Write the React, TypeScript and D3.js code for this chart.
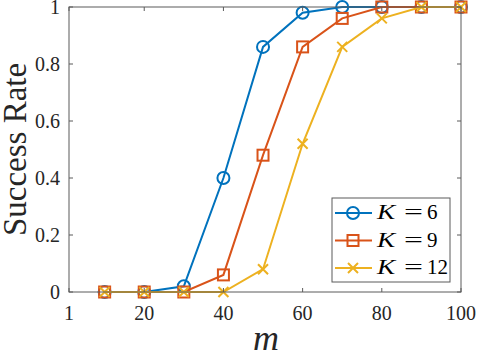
import { useEffect, useRef } from "react";
import * as d3 from "d3";

const mValues = [10, 20, 30, 40, 50, 60, 70, 80, 90, 100];
const k6 = [0, 0, 0.02, 0.4, 0.86, 0.98, 1, 1, 1, 1];
const k9 = [0, 0, 0, 0.06, 0.48, 0.86, 0.96, 1, 1, 1];
const k12 = [0, 0, 0, 0, 0.08, 0.52, 0.86, 0.96, 1, 1];
const xTicks = [1, 20, 40, 60, 80, 100];
const yTicks = [0, 0.2, 0.4, 0.6, 0.8, 1];

const series = [
  { k: "6", values: k6, color: "#0072BD", marker: "circle" },
  { k: "9", values: k9, color: "#D95319", marker: "square" },
  { k: "12", values: k12, color: "#EDB120", marker: "cross" },
];

const W = 478;
const H = 357;
const FONT = "Liberation Serif";

const drawMarker = (g, type, cx, cy, color) => {
  if (type === "circle") {
    g.append("circle").attr("cx", cx).attr("cy", cy).attr("r", 6)
      .attr("fill", "none").attr("stroke", color).attr("stroke-width", 2);
  } else if (type === "square") {
    g.append("rect").attr("x", cx - 5.5).attr("y", cy - 5.5).attr("width", 11).attr("height", 11)
      .attr("fill", "none").attr("stroke", color).attr("stroke-width", 2);
  } else {
    const s = 5;
    g.append("path").attr("d", `M${cx - s},${cy - s}L${cx + s},${cy + s}M${cx - s},${cy + s}L${cx + s},${cy - s}`)
      .attr("stroke", color).attr("stroke-width", 2).attr("fill", "none");
  }
};

export default function App() {
  const ref = useRef(null);

  useEffect(() => {
    const svg = d3.select(ref.current);
    svg.selectAll("*").remove();

    const x = d3.scaleLinear().domain([1, 100]).range([69, 461]);
    const y = d3.scaleLinear().domain([0, 1]).range([292, 7]);
    const [x0, x1] = x.range();
    const [y0, y1] = y.range();
    const axisColor = "#5a5a5a";

    svg.append("rect").attr("width", W).attr("height", H).attr("fill", "#fff");

    // data lines and markers
    series.forEach((s) => {
      const line = d3.line().x((_, i) => x(mValues[i])).y((v) => y(v));
      svg.append("path").datum(s.values).attr("d", line)
        .attr("fill", "none").attr("stroke", s.color).attr("stroke-width", 2);
      const g = svg.append("g");
      s.values.forEach((v, i) => drawMarker(g, s.marker, x(mValues[i]), y(v), s.color));
    });

    // box + ticks
    svg.append("rect").attr("x", x0).attr("y", y1).attr("width", x1 - x0).attr("height", y0 - y1)
      .attr("fill", "none").attr("stroke", axisColor).attr("stroke-width", 1);
    const tl = 4;
    xTicks.forEach((t) => {
      svg.append("line").attr("x1", x(t)).attr("x2", x(t)).attr("y1", y0).attr("y2", y0 - tl).attr("stroke", axisColor);
      svg.append("line").attr("x1", x(t)).attr("x2", x(t)).attr("y1", y1).attr("y2", y1 + tl).attr("stroke", axisColor);
      svg.append("text").attr("x", x(t)).attr("y", 320).attr("text-anchor", "middle")
        .style("font-family", FONT).attr("font-size", 20).attr("fill", "#262626").text(t);
    });
    yTicks.forEach((t) => {
      svg.append("line").attr("x1", x0).attr("x2", x0 + tl).attr("y1", y(t)).attr("y2", y(t)).attr("stroke", axisColor);
      svg.append("line").attr("x1", x1).attr("x2", x1 - tl).attr("y1", y(t)).attr("y2", y(t)).attr("stroke", axisColor);
      svg.append("text").attr("x", 60).attr("y", y(t) + 7).attr("text-anchor", "end")
        .style("font-family", FONT).attr("font-size", 20).attr("fill", "#262626").text(t);
    });

    // axis labels
    svg.append("text").attr("x", 266).attr("y", 350).attr("text-anchor", "middle")
      .style("font-family", FONT).attr("font-style", "italic").attr("font-size", 36).attr("fill", "#262626").text("m");
    svg.append("text").attr("transform", `translate(26,${(y0 + y1) / 2}) rotate(-90)`).attr("text-anchor", "middle")
      .style("font-family", FONT).attr("font-size", 33).attr("fill", "#262626").text("Success Rate");

    // legend
    const lg = svg.append("g");
    lg.append("rect").attr("x", 332).attr("y", 198).attr("width", 118).attr("height", 84)
      .attr("fill", "#fff").attr("stroke", axisColor).attr("stroke-width", 1);
    series.forEach((s, i) => {
      const ly = 213 + i * 27.5;
      lg.append("line").attr("x1", 335).attr("x2", 372).attr("y1", ly).attr("y2", ly)
        .attr("stroke", s.color).attr("stroke-width", 2);
      drawMarker(lg, s.marker, 353, ly, s.color);
      const base = ly + 6;
      lg.append("text").attr("transform", `translate(377,${base}) scale(1.3,1)`).style("font-family", FONT)
        .attr("font-style", "italic").attr("font-size", 21).attr("fill", "#000").text("K");
      lg.append("text").attr("transform", `translate(404,${base}) scale(1.6,1)`).style("font-family", FONT)
        .attr("font-size", 21).attr("fill", "#000").text("=");
      lg.append("text").attr("x", 427).attr("y", base).style("font-family", FONT)
        .attr("font-size", 21).attr("fill", "#000").text(s.k);
    });
  }, []);

  return (
    <svg ref={ref} width={W} height={H}
      style={{ position: "fixed", left: 0, top: 0, display: "block" }} />
  );
}
